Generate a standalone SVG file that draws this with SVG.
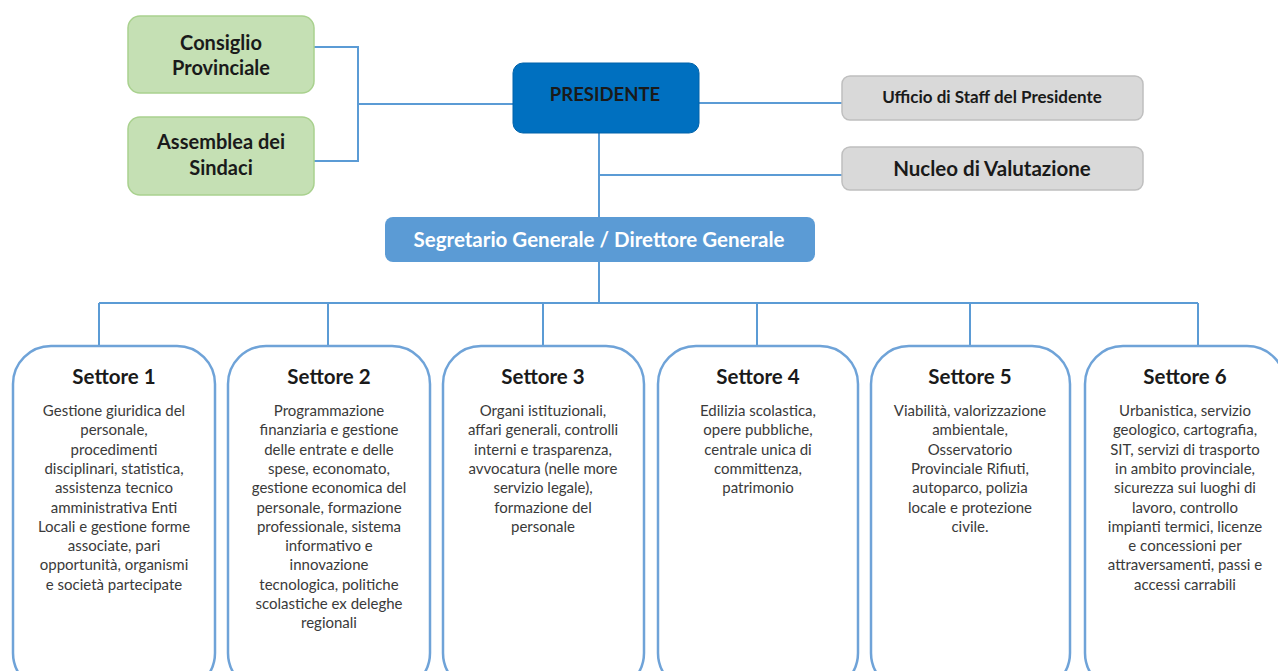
<svg xmlns="http://www.w3.org/2000/svg" width="1278" height="671" viewBox="0 0 1278 671">
<style>
.green{fill:#c5e0b4;stroke:#a9d18e;stroke-width:1.5}
.grey{fill:#d9d9d9;stroke:#bfbfbf;stroke-width:1.5}
.sett{fill:#ffffff;stroke:#6fa3d8;stroke-width:2.5}
.conn{fill:none;stroke:#5b9bd5;stroke-width:2}
text{font-family:Lato,"Open Sans","Liberation Sans",sans-serif;text-anchor:middle}
.tb{font-weight:bold;fill:#1a1a1a}
.title{font-weight:bold;font-size:20.5px;fill:#1a1a1a}
.body{font-size:15px;fill:#3a3a3a}
</style>
<rect width="1278" height="671" fill="#ffffff"/>
<g id="connectors">
<path class="conn" d="M314 47 H358 V161 H314 M358 104 H513"/>
<path class="conn" d="M699 103 H842 M599 133 V217 M599 175 H842"/>
<path class="conn" d="M599 262 V303 M99 303 H1198 M99 303 V346 M328 303 V346 M543 303 V346 M757 303 V346 M970 303 V346 M1198 303 V346"/>
</g>
<g id="consiglio">
<rect class="green" x="128" y="16" width="186" height="77" rx="12"/>
<text class="tb" x="221" y="50" font-size="20">Consiglio</text>
<text class="tb" x="221" y="75" font-size="20">Provinciale</text>
</g>
<g id="assemblea">
<rect class="green" x="128" y="117" width="186" height="78" rx="12"/>
<text class="tb" x="221" y="149" font-size="20">Assemblea dei</text>
<text class="tb" x="221" y="175" font-size="20">Sindaci</text>
</g>
<g id="presidente">
<rect x="513" y="63" width="186" height="70" rx="10" fill="#0070c0" stroke="#0063aa" stroke-width="1"/>
<text class="tb" x="605" y="101" font-size="18.5">PRESIDENTE</text>
</g>
<g id="ufficio">
<rect class="grey" x="842" y="76" width="301" height="44" rx="8"/>
<text class="tb" x="992" y="103" font-size="17">Ufficio di Staff del Presidente</text>
</g>
<g id="nucleo">
<rect class="grey" x="842" y="147" width="301" height="43" rx="8"/>
<text class="tb" x="992" y="175.5" font-size="20.5">Nucleo di Valutazione</text>
</g>
<g id="segretario">
<rect x="385" y="217" width="430" height="45" rx="8" fill="#5b9bd5"/>
<text x="599" y="246.5" font-size="20.5" font-weight="bold" fill="#ffffff">Segretario Generale / Direttore Generale</text>
</g>
<g id="settore1">
<rect class="sett" x="13" y="346" width="202" height="345" rx="38"/>
<text class="title" x="114" y="383.5">Settore 1</text>
<text class="body" x="114" y="416">Gestione giuridica del</text>
<text class="body" x="114" y="435.3">personale,</text>
<text class="body" x="114" y="454.6">procedimenti</text>
<text class="body" x="114" y="473.9">disciplinari, statistica,</text>
<text class="body" x="114" y="493.2">assistenza tecnico</text>
<text class="body" x="114" y="512.5">amministrativa Enti</text>
<text class="body" x="114" y="531.8">Locali e gestione forme</text>
<text class="body" x="114" y="551.1">associate, pari</text>
<text class="body" x="114" y="570.4">opportunità, organismi</text>
<text class="body" x="114" y="589.7">e società partecipate</text>
</g>
<g id="settore2">
<rect class="sett" x="228" y="346" width="202" height="345" rx="38"/>
<text class="title" x="329" y="383.5">Settore 2</text>
<text class="body" x="329" y="416">Programmazione</text>
<text class="body" x="329" y="435.3">finanziaria e gestione</text>
<text class="body" x="329" y="454.6">delle entrate e delle</text>
<text class="body" x="329" y="473.9">spese, economato,</text>
<text class="body" x="329" y="493.2">gestione economica del</text>
<text class="body" x="329" y="512.5">personale, formazione</text>
<text class="body" x="329" y="531.8">professionale, sistema</text>
<text class="body" x="329" y="551.1">informativo e</text>
<text class="body" x="329" y="570.4">innovazione</text>
<text class="body" x="329" y="589.7">tecnologica, politiche</text>
<text class="body" x="329" y="609">scolastiche ex deleghe</text>
<text class="body" x="329" y="628.3">regionali</text>
</g>
<g id="settore3">
<rect class="sett" x="443" y="346" width="201" height="345" rx="38"/>
<text class="title" x="543" y="383.5">Settore 3</text>
<text class="body" x="543" y="416">Organi istituzionali,</text>
<text class="body" x="543" y="435.3">affari generali, controlli</text>
<text class="body" x="543" y="454.6">interni e trasparenza,</text>
<text class="body" x="543" y="473.9">avvocatura (nelle more</text>
<text class="body" x="543" y="493.2">servizio legale),</text>
<text class="body" x="543" y="512.5">formazione del</text>
<text class="body" x="543" y="531.8">personale</text>
</g>
<g id="settore4">
<rect class="sett" x="658" y="346" width="200" height="345" rx="38"/>
<text class="title" x="758" y="383.5">Settore 4</text>
<text class="body" x="758" y="416">Edilizia scolastica,</text>
<text class="body" x="758" y="435.3">opere pubbliche,</text>
<text class="body" x="758" y="454.6">centrale unica di</text>
<text class="body" x="758" y="473.9">committenza,</text>
<text class="body" x="758" y="493.2">patrimonio</text>
</g>
<g id="settore5">
<rect class="sett" x="871" y="346" width="199" height="345" rx="38"/>
<text class="title" x="970" y="383.5">Settore 5</text>
<text class="body" x="970" y="416">Viabilità, valorizzazione</text>
<text class="body" x="970" y="435.3">ambientale,</text>
<text class="body" x="970" y="454.6">Osservatorio</text>
<text class="body" x="970" y="473.9">Provinciale Rifiuti,</text>
<text class="body" x="970" y="493.2">autoparco, polizia</text>
<text class="body" x="970" y="512.5">locale e protezione</text>
<text class="body" x="970" y="531.8">civile.</text>
</g>
<g id="settore6">
<rect class="sett" x="1085" y="346" width="200" height="345" rx="38"/>
<text class="title" x="1185" y="383.5">Settore 6</text>
<text class="body" x="1185" y="416">Urbanistica, servizio</text>
<text class="body" x="1185" y="435.3">geologico, cartografia,</text>
<text class="body" x="1185" y="454.6">SIT, servizi di trasporto</text>
<text class="body" x="1185" y="473.9">in ambito provinciale,</text>
<text class="body" x="1185" y="493.2">sicurezza sui luoghi di</text>
<text class="body" x="1185" y="512.5">lavoro, controllo</text>
<text class="body" x="1185" y="531.8">impianti termici, licenze</text>
<text class="body" x="1185" y="551.1">e concessioni per</text>
<text class="body" x="1185" y="570.4">attraversamenti, passi e</text>
<text class="body" x="1185" y="589.7">accessi carrabili</text>
</g>
</svg>
